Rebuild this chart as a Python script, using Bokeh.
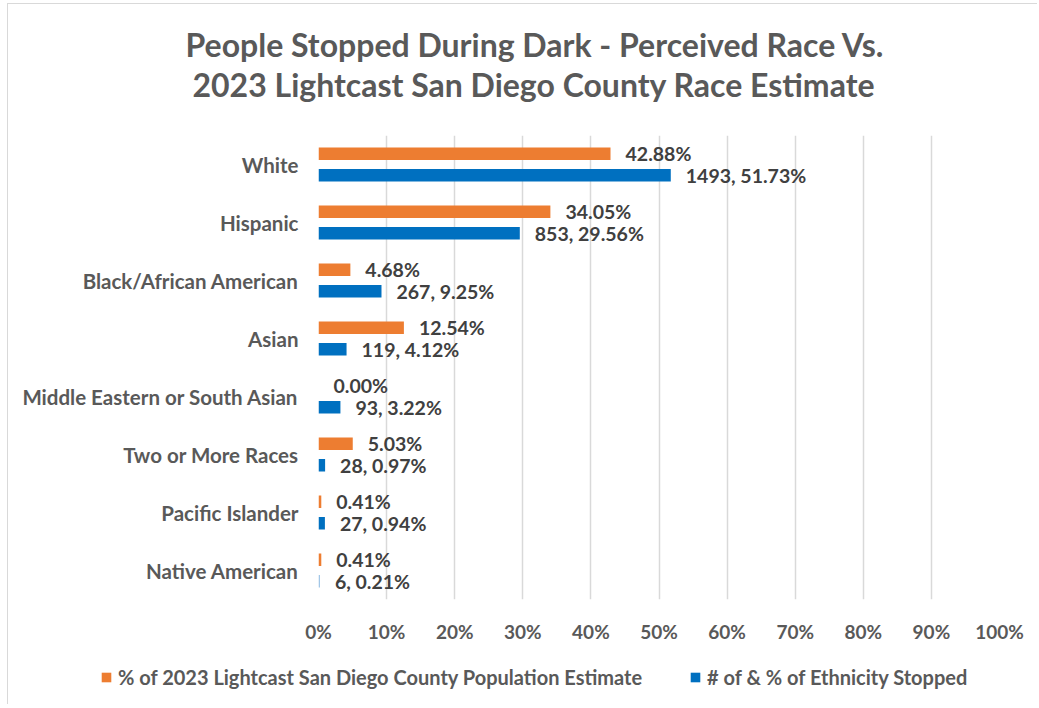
from bokeh.plotting import figure
from bokeh.layouts import column
from bokeh.models import (ColumnDataSource, FactorRange, Legend, LegendItem,
                          FixedTicker, PrintfTickFormatter, Title, Range1d)
from bokeh.transform import dodge
from bokeh.core.properties import value
from bokeh.embed import file_html
from bokeh.resources import INLINE

# Race / ethnicity groups, top to bottom
categories = ["White", "Hispanic", "Black/African American", "Asian",
              "Middle Eastern or South Asian", "Two or More Races",
              "Pacific Islander", "Native American"]

# % of 2023 Lightcast San Diego County population estimate
population_pct = [42.88, 34.05, 4.68, 12.54, 0.00, 5.03, 0.41, 0.41]

# People stopped during dark: count and share
stopped_count = [1493, 853, 267, 119, 93, 28, 27, 6]
stopped_pct = [51.73, 29.56, 9.25, 4.12, 3.22, 0.97, 0.94, 0.21]

x_ticks = [0, 10, 20, 30, 40, 50, 60, 70, 80, 90, 100]

series_names = ["% of 2023 Lightcast San Diego County Population Estimate",
                "# of & % of Ethnicity Stopped"]

title_lines = ["People Stopped During Dark - Perceived Race Vs.",
               "2023 Lightcast San Diego County Race Estimate"]

ORANGE = "#ED7D31"
BLUE = "#0070C0"
LIGHT_BLUE = "#9DC3E6"
AXIS_GRAY = "#595959"
LABEL_GRAY = "#404040"
FONT = "Lato"

blue_colors = [BLUE] * (len(categories) - 1) + [LIGHT_BLUE]

source = ColumnDataSource(dict(
    cat=categories,
    pop=population_pct,
    pct=stopped_pct,
    pop_label=[f"{v:.2f}%" for v in population_pct],
    stop_label=[f"{n}, {v:.2f}%" for n, v in zip(stopped_count, stopped_pct)],
    stop_color=blue_colors,
))

# ---- main bar chart ----
p = figure(width=1029, height=646,
           y_range=FactorRange(factors=categories[::-1]),
           x_range=(0, 100),
           output_backend="svg", toolbar_location=None,
           min_border_left=310, min_border_right=38,
           min_border_top=131, min_border_bottom=51)

p.outline_line_color = None
p.background_fill_color = "white"
p.border_fill_color = "white"

# two-line title; the Title added later sits closer to the plot
p.title.text = title_lines[0]
p.title.align = "left"
p.title.offset = -133
p.title.text_font = FONT
p.title.text_font_size = "32px"
p.title.text_font_style = "bold"
p.title.text_color = AXIS_GRAY
p.title.standoff = -65
p.add_layout(Title(text=title_lines[1], offset=-126, standoff=63, align="left",
                   text_font=FONT, text_font_size="32px", text_font_style="bold",
                   text_color=AXIS_GRAY), "above")

# grid
p.xgrid.grid_line_color = "#D9D9D9"
p.xgrid.grid_line_width = 1.5
p.ygrid.grid_line_color = None

# x axis
xa = p.xaxis[0]
xa.ticker = FixedTicker(ticks=x_ticks)
xa.formatter = PrintfTickFormatter(format="%d%%")
xa.axis_line_color = None
xa.major_tick_line_color = None
xa.minor_tick_line_color = None
xa.major_tick_out = 0
xa.major_label_standoff = 20
xa.major_label_text_font = FONT
xa.major_label_text_font_style = "bold"
xa.major_label_text_font_size = "19px"
xa.major_label_text_color = AXIS_GRAY

# y axis
ya = p.yaxis[0]
ya.axis_line_color = None
ya.major_tick_line_color = None
ya.minor_tick_line_color = None
ya.major_tick_out = 0
ya.major_label_standoff = 20
ya.major_label_text_font = FONT
ya.major_label_text_font_style = "bold"
ya.major_label_text_font_size = "20.5px"
ya.major_label_text_color = AXIS_GRAY

off = 0.184
bar_h = 0.215

p.hbar(y=dodge("cat", off, range=p.y_range), left=0, right="pop",
       height=bar_h, fill_color=ORANGE, line_color=None, source=source)
p.hbar(y=dodge("cat", -off, range=p.y_range), left=0, right="pct",
       height=bar_h, fill_color="stop_color", line_color=None, source=source)

label_style = dict(x_offset=15, text_baseline="middle", text_align="left",
                   text_font=value(FONT), text_font_style="bold",
                   text_font_size="19.5px", text_color=LABEL_GRAY, source=source)
p.text(x="pop", y=dodge("cat", off, range=p.y_range), text="pop_label", **label_style)
p.text(x="pct", y=dodge("cat", -off, range=p.y_range), text="stop_label", **label_style)

# ---- legend strip under the chart ----
leg = figure(width=1029, height=54, x_range=Range1d(0, 1), y_range=Range1d(0, 1),
             x_axis_type=None, y_axis_type=None,
             output_backend="svg", toolbar_location=None,
             min_border_left=0, min_border_right=0,
             min_border_top=0, min_border_bottom=0)
leg.outline_line_color = None
leg.xgrid.visible = False
leg.ygrid.visible = False
# let this strip's frame span its full width instead of lining up with the chart
if "frame_align" in leg.properties():
    leg.frame_align = False

# zero-length bars that only provide the legend swatches
swatch_pop = leg.hbar(y=[0], right=[0], left=0, height=1,
                      fill_color=ORANGE, line_color=None)
swatch_stop = leg.hbar(y=[0], right=[0], left=0, height=1,
                       fill_color=BLUE, line_color=None)

legend = Legend(items=[LegendItem(label=series_names[0], renderers=[swatch_pop]),
                       LegendItem(label=series_names[1], renderers=[swatch_stop])],
                orientation="horizontal", location=(92, 15),
                glyph_width=12, glyph_height=12, label_height=12,
                label_standoff=6, spacing=47,
                padding=0, margin=0, border_line_color=None,
                background_fill_alpha=0,
                label_text_font=FONT, label_text_font_style="bold",
                label_text_font_size="20px", label_text_color=AXIS_GRAY)
leg.add_layout(legend, "center")

# light frame around the whole chart area
layout = column(p, leg, margin=(3, 0, 0, 7),
                styles={"border-left": "1.5px solid #D9D9D9",
                        "border-top": "1.5px solid #D9D9D9"})

open("out.html", "w").write(file_html(layout, INLINE))
